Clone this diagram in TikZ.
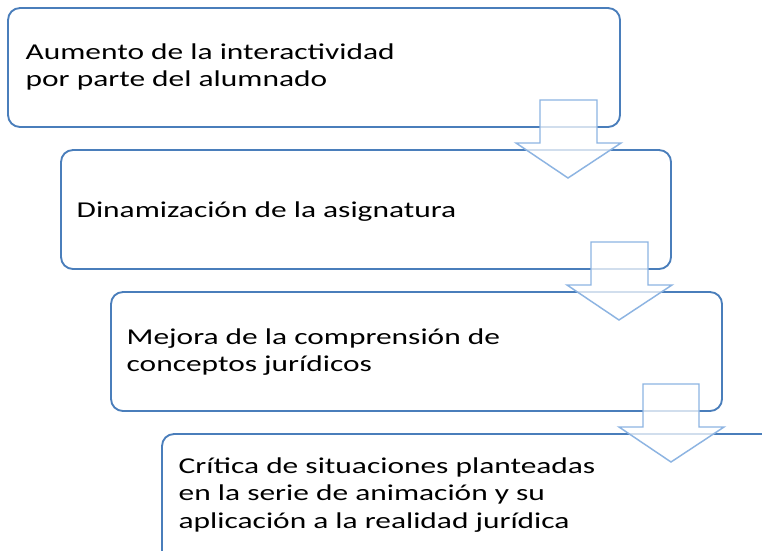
\documentclass[tikz,border=0pt]{standalone}
\usepackage{fontspec}
\setmainfont{Carlito}

\tikzset{every picture/.style={line width=0.75pt}}
\definecolor{boxblue}{RGB}{74,126,187}
\definecolor{arrowblue}{RGB}{141,180,226}
\tikzset{
  stagebox/.style={draw=boxblue, line width=1.4pt, rounded corners=9pt, fill=white},
  downarrow/.style={draw=arrowblue, line width=1.1pt, fill=white, fill opacity=0.75},
  stagetext/.style={anchor=west, align=left, inner sep=0pt, font=\fontsize{17}{20.5}\selectfont, xscale=1.386}
}

\begin{document}
\begin{tikzpicture}[x=0.75pt,y=0.75pt,yscale=-1,xscale=1]
\useasboundingbox (0,0) rectangle (762,550);
\clip (0,0) rectangle (762,550);

%Shape: Rounded Rect
\draw [stagebox] (8,8) rectangle (620,127);
%Shape: Rounded Rect
\draw [stagebox] (61,150) rectangle (671,269);
%Shape: Rounded Rect
\draw [stagebox] (111,292) rectangle (722,411);
%Shape: Rounded Rect
\draw [stagebox] (162,434) rectangle (790,580);

%Shape: Down Arrow
\draw [downarrow] (540,100) -- (597,100) -- (597,143) -- (621,143) -- (568,178) -- (516,143) -- (540,143) -- cycle ;
%Shape: Down Arrow
\draw [downarrow] (591,242) -- (648,242) -- (648,285) -- (672,285) -- (619,320) -- (567,285) -- (591,285) -- cycle ;
%Shape: Down Arrow
\draw [downarrow] (643,384) -- (699,384) -- (699,427) -- (724,427) -- (671,462) -- (619,427) -- (643,427) -- cycle ;

% Text Node
\node [stagetext] (interact) at (25,67) {Aumento de la interactividad\\por parte del alumnado};
% Text Node
\node [stagetext] (dinam) at (76,212) {Dinamización de la asignatura};
% Text Node
\node [stagetext] (mejora) at (126,352) {Mejora de la comprensión de\\conceptos jurídicos};
% Text Node
\node [stagetext] (critica) at (178,495) {Crítica de situaciones planteadas\\en la serie de animación y su\\aplicación a la realidad jurídica};

\end{tikzpicture}
\end{document}
